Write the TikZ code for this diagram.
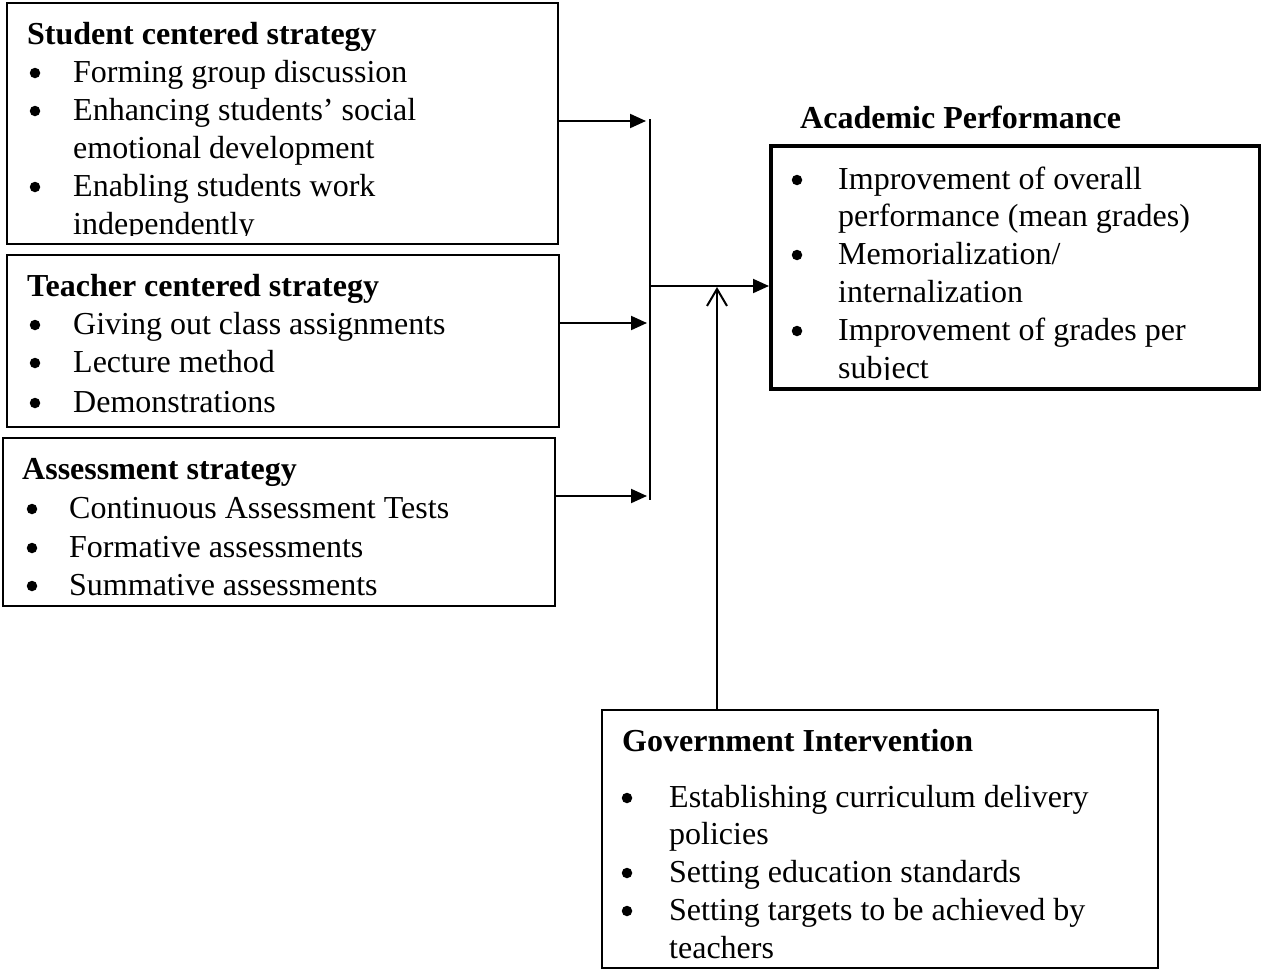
\documentclass[tikz,border=0pt]{standalone}
\usepackage{fontspec}
\setmainfont{Liberation Serif}
\usetikzlibrary{arrows.meta}
\begin{document}
\begin{tikzpicture}[x=1pt,y=-1pt,
  box/.style={draw,line width=2pt,anchor=north west,inner sep=0pt},
  txt/.style={anchor=base west,inner sep=0pt,font=\fontsize{32}{38}\selectfont},
  head/.style={anchor=base west,inner sep=0pt,font=\fontsize{32}{38}\selectfont\bfseries},
  dot/.style={circle,fill,inner sep=0pt,minimum size=10.5pt},
  flow/.style={line width=2pt,-{Triangle[length=16pt,width=14pt]}},
  open/.style={line width=2pt,-{Straight Barb[length=17pt,width=20pt,line width=2pt]}}]
\useasboundingbox (0,0) rectangle (1261,969);

% boxes
\node[box,minimum width=551pt,minimum height=241pt] (sbox) at (6,2) {};
\node[box,minimum width=552pt,minimum height=172pt] (tbox) at (6,254) {};
\node[box,minimum width=552pt,minimum height=168pt] (abox) at (2,437) {};
\node[box,line width=4pt,minimum width=489pt,minimum height=243pt] (pbox) at (769,144) {};
\node[box,minimum width=556pt,minimum height=258pt] (gbox) at (601,709) {};

% student centered strategy
\begin{scope}
\clip (8,4) rectangle (555,235);
\node[head] (sh) at (27,44) {Student centered strategy};
\node[dot] (sb1) at (35,73) {};
\node[txt] (st1) at (73,82) {Forming group discussion};
\node[dot] (sb2) at (35,111) {};
\node[txt] (st2) at (73,120) {Enhancing students’ social};
\node[txt] (st3) at (73,158) {emotional development};
\node[dot] (sb3) at (35,187) {};
\node[txt] (st4) at (73,196) {Enabling students work};
\node[txt] (st5) at (73,234) {independently};
\end{scope}

% teacher centered strategy
\node[head] (th) at (27,296) {Teacher centered strategy};
\node[dot] (tb1) at (35,325) {};
\node[txt] (tt1) at (73,334) {Giving out class assignments};
\node[dot] (tb2) at (35,363) {};
\node[txt] (tt2) at (73,372) {Lecture method};
\node[dot] (tb3) at (35,403) {};
\node[txt] (tt3) at (73,412) {Demonstrations};

% assessment strategy
\node[head] (ah) at (22,479) {Assessment strategy};
\node[dot] (ab1) at (32,509) {};
\node[txt] (at1) at (69,518) {Continuous Assessment Tests};
\node[dot] (ab2) at (32,548) {};
\node[txt] (at2) at (69,557) {Formative assessments};
\node[dot] (ab3) at (32,586) {};
\node[txt] (at3) at (69,595) {Summative assessments};

% academic performance
\node[head] (ph) at (800,128) {Academic Performance};
\begin{scope}
\clip (771,146) rectangle (1256,379);
\node[dot] (pb1) at (797,180) {};
\node[txt] (pt1) at (838,189) {Improvement of overall};
\node[txt] (pt2) at (838,226) {performance (mean grades)};
\node[dot] (pb2) at (797,255) {};
\node[txt] (pt3) at (838,264) {Memorialization/};
\node[txt] (pt4) at (838,302) {internalization};
\node[dot] (pb3) at (797,331) {};
\node[txt] (pt5) at (838,340) {Improvement of grades per};
\node[txt] (pt6) at (838,378) {subject};
\end{scope}

% government intervention
\node[head] (gh) at (622,751) {Government Intervention};
\node[dot] (gb1) at (627,798) {};
\node[txt] (gt1) at (669,807) {Establishing curriculum delivery};
\node[txt] (gt2) at (669,844) {policies};
\node[dot] (gb2) at (627,873) {};
\node[txt] (gt3) at (669,882) {Setting education standards};
\node[dot] (gb3) at (627,911) {};
\node[txt] (gt4) at (669,920) {Setting targets to be achieved by};
\node[txt] (gt5) at (669,958) {teachers};

% connectors
\coordinate (bt) at (650,119);
\coordinate (bb) at (650,500);
\coordinate (s1) at (646,121);
\coordinate (t1) at (647,323);
\coordinate (a1) at (647,496);
\coordinate (o1) at (650,286);
\coordinate (g1) at (717,287);
\draw[line width=2pt] (bt) -- (bb);
\draw[flow] (sbox.east |- s1) -- (s1);
\draw[flow] (tbox.east |- t1) -- (t1);
\draw[flow] (abox.east |- a1) -- (a1);
\draw[flow] (o1) -- (pbox.west |- o1);
\draw[open] (g1 |- gbox.north) -- (g1);
\end{tikzpicture}
\end{document}
